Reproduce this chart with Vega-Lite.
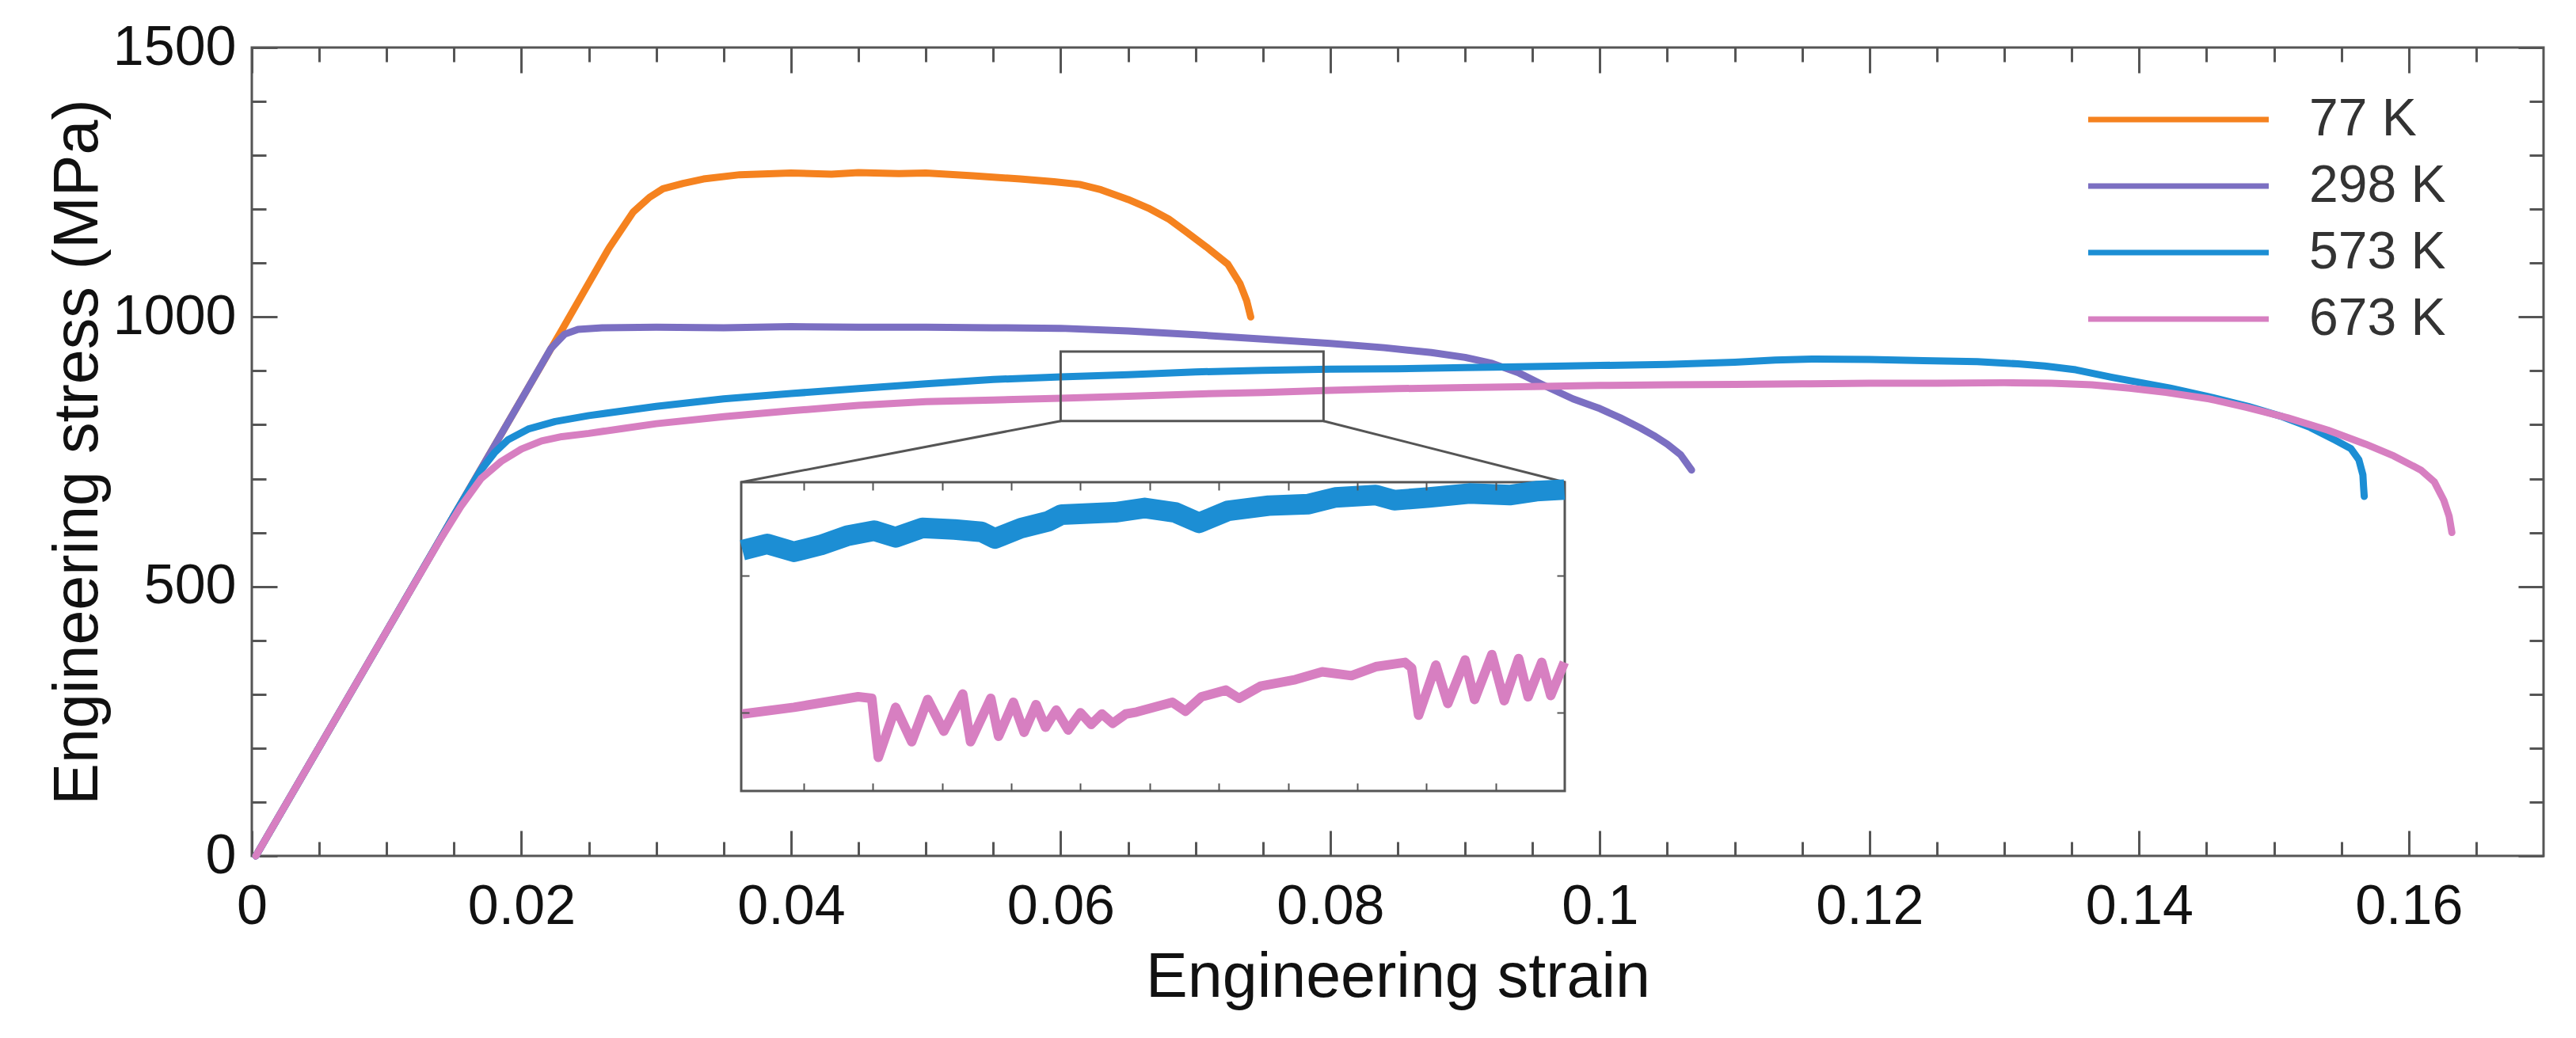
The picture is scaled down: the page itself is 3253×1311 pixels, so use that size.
{
  "$schema": "https://vega.github.io/schema/vega-lite/v6.json",
  "width": 2894,
  "height": 1021,
  "autosize": {"type": "none"},
  "padding": {"left": 318, "top": 60, "right": 41, "bottom": 230},
  "background": "white",
  "config": {
    "font": "Liberation Sans",
    "view": {"stroke": "#555555", "strokeWidth": 3},
    "axis": {"grid": false, "domain": false, "tickColor": "#555555", "tickWidth": 3, "labelColor": "#111111", "titleColor": "#111111", "titleFontWeight": "normal", "labelFlush": false, "labelOverlap": false}
  },
  "datasets": {
    "curves": [
      {"temperature": "77 K", "strain": 0.0003, "stress": 0},
      {"temperature": "77 K", "strain": 0.005, "stress": 202},
      {"temperature": "77 K", "strain": 0.01, "stress": 417},
      {"temperature": "77 K", "strain": 0.015, "stress": 632},
      {"temperature": "77 K", "strain": 0.02, "stress": 847},
      {"temperature": "77 K", "strain": 0.023, "stress": 976},
      {"temperature": "77 K", "strain": 0.0265, "stress": 1128},
      {"temperature": "77 K", "strain": 0.0283, "stress": 1195},
      {"temperature": "77 K", "strain": 0.0295, "stress": 1222},
      {"temperature": "77 K", "strain": 0.0305, "stress": 1238},
      {"temperature": "77 K", "strain": 0.032, "stress": 1248},
      {"temperature": "77 K", "strain": 0.0335, "stress": 1256},
      {"temperature": "77 K", "strain": 0.0362, "stress": 1264},
      {"temperature": "77 K", "strain": 0.04, "stress": 1267},
      {"temperature": "77 K", "strain": 0.043, "stress": 1265},
      {"temperature": "77 K", "strain": 0.045, "stress": 1268},
      {"temperature": "77 K", "strain": 0.048, "stress": 1266},
      {"temperature": "77 K", "strain": 0.05, "stress": 1267},
      {"temperature": "77 K", "strain": 0.0535, "stress": 1262},
      {"temperature": "77 K", "strain": 0.057, "stress": 1256},
      {"temperature": "77 K", "strain": 0.0595, "stress": 1251},
      {"temperature": "77 K", "strain": 0.0614, "stress": 1246},
      {"temperature": "77 K", "strain": 0.063, "stress": 1236},
      {"temperature": "77 K", "strain": 0.065, "stress": 1218},
      {"temperature": "77 K", "strain": 0.0665, "stress": 1202},
      {"temperature": "77 K", "strain": 0.068, "stress": 1182},
      {"temperature": "77 K", "strain": 0.0692, "stress": 1160},
      {"temperature": "77 K", "strain": 0.0708, "stress": 1130},
      {"temperature": "77 K", "strain": 0.0724, "stress": 1098},
      {"temperature": "77 K", "strain": 0.0733, "stress": 1062},
      {"temperature": "77 K", "strain": 0.0738, "stress": 1030},
      {"temperature": "77 K", "strain": 0.0741, "stress": 1000},
      {"temperature": "298 K", "strain": 0.0003, "stress": 0},
      {"temperature": "298 K", "strain": 0.005, "stress": 202},
      {"temperature": "298 K", "strain": 0.01, "stress": 417},
      {"temperature": "298 K", "strain": 0.015, "stress": 632},
      {"temperature": "298 K", "strain": 0.02, "stress": 847},
      {"temperature": "298 K", "strain": 0.0222, "stress": 942},
      {"temperature": "298 K", "strain": 0.0232, "stress": 968},
      {"temperature": "298 K", "strain": 0.0242, "stress": 977},
      {"temperature": "298 K", "strain": 0.026, "stress": 980},
      {"temperature": "298 K", "strain": 0.03, "stress": 981},
      {"temperature": "298 K", "strain": 0.035, "stress": 980},
      {"temperature": "298 K", "strain": 0.04, "stress": 982},
      {"temperature": "298 K", "strain": 0.045, "stress": 981},
      {"temperature": "298 K", "strain": 0.05, "stress": 981},
      {"temperature": "298 K", "strain": 0.055, "stress": 980},
      {"temperature": "298 K", "strain": 0.06, "stress": 979},
      {"temperature": "298 K", "strain": 0.065, "stress": 974},
      {"temperature": "298 K", "strain": 0.07, "stress": 967},
      {"temperature": "298 K", "strain": 0.075, "stress": 959},
      {"temperature": "298 K", "strain": 0.08, "stress": 951},
      {"temperature": "298 K", "strain": 0.084, "stress": 943},
      {"temperature": "298 K", "strain": 0.0875, "stress": 934},
      {"temperature": "298 K", "strain": 0.09, "stress": 925},
      {"temperature": "298 K", "strain": 0.092, "stress": 914},
      {"temperature": "298 K", "strain": 0.094, "stress": 896},
      {"temperature": "298 K", "strain": 0.0957, "stress": 875},
      {"temperature": "298 K", "strain": 0.098, "stress": 848},
      {"temperature": "298 K", "strain": 0.1, "stress": 830},
      {"temperature": "298 K", "strain": 0.1015, "stress": 813},
      {"temperature": "298 K", "strain": 0.103, "stress": 794},
      {"temperature": "298 K", "strain": 0.104, "stress": 780},
      {"temperature": "298 K", "strain": 0.105, "stress": 764},
      {"temperature": "298 K", "strain": 0.106, "stress": 744},
      {"temperature": "298 K", "strain": 0.1068, "stress": 716},
      {"temperature": "573 K", "strain": 0.0003, "stress": 0},
      {"temperature": "573 K", "strain": 0.005, "stress": 202},
      {"temperature": "573 K", "strain": 0.01, "stress": 417},
      {"temperature": "573 K", "strain": 0.015, "stress": 632},
      {"temperature": "573 K", "strain": 0.017, "stress": 716},
      {"temperature": "573 K", "strain": 0.018, "stress": 748},
      {"temperature": "573 K", "strain": 0.019, "stress": 772},
      {"temperature": "573 K", "strain": 0.0205, "stress": 792},
      {"temperature": "573 K", "strain": 0.0225, "stress": 806},
      {"temperature": "573 K", "strain": 0.025, "stress": 817},
      {"temperature": "573 K", "strain": 0.03, "stress": 834},
      {"temperature": "573 K", "strain": 0.035, "stress": 848},
      {"temperature": "573 K", "strain": 0.04, "stress": 858},
      {"temperature": "573 K", "strain": 0.045, "stress": 867},
      {"temperature": "573 K", "strain": 0.05, "stress": 876},
      {"temperature": "573 K", "strain": 0.055, "stress": 884},
      {"temperature": "573 K", "strain": 0.06, "stress": 889},
      {"temperature": "573 K", "strain": 0.065, "stress": 893},
      {"temperature": "573 K", "strain": 0.07, "stress": 898},
      {"temperature": "573 K", "strain": 0.075, "stress": 901},
      {"temperature": "573 K", "strain": 0.08, "stress": 903},
      {"temperature": "573 K", "strain": 0.085, "stress": 904},
      {"temperature": "573 K", "strain": 0.09, "stress": 906},
      {"temperature": "573 K", "strain": 0.095, "stress": 908},
      {"temperature": "573 K", "strain": 0.1, "stress": 910},
      {"temperature": "573 K", "strain": 0.105, "stress": 912},
      {"temperature": "573 K", "strain": 0.11, "stress": 916},
      {"temperature": "573 K", "strain": 0.113, "stress": 920},
      {"temperature": "573 K", "strain": 0.116, "stress": 922},
      {"temperature": "573 K", "strain": 0.12, "stress": 921},
      {"temperature": "573 K", "strain": 0.124, "stress": 919},
      {"temperature": "573 K", "strain": 0.128, "stress": 917},
      {"temperature": "573 K", "strain": 0.131, "stress": 913},
      {"temperature": "573 K", "strain": 0.133, "stress": 909},
      {"temperature": "573 K", "strain": 0.1353, "stress": 902},
      {"temperature": "573 K", "strain": 0.138, "stress": 888},
      {"temperature": "573 K", "strain": 0.1423, "stress": 868},
      {"temperature": "573 K", "strain": 0.145, "stress": 853},
      {"temperature": "573 K", "strain": 0.1481, "stress": 834},
      {"temperature": "573 K", "strain": 0.1505, "stress": 816},
      {"temperature": "573 K", "strain": 0.1527, "stress": 795},
      {"temperature": "573 K", "strain": 0.1545, "stress": 772},
      {"temperature": "573 K", "strain": 0.1557, "stress": 756},
      {"temperature": "573 K", "strain": 0.1563, "stress": 735},
      {"temperature": "573 K", "strain": 0.1566, "stress": 707},
      {"temperature": "573 K", "strain": 0.15665, "stress": 685},
      {"temperature": "573 K", "strain": 0.1567, "stress": 667},
      {"temperature": "673 K", "strain": 0.0003, "stress": 0},
      {"temperature": "673 K", "strain": 0.005, "stress": 202},
      {"temperature": "673 K", "strain": 0.01, "stress": 417},
      {"temperature": "673 K", "strain": 0.014, "stress": 588},
      {"temperature": "673 K", "strain": 0.0155, "stress": 648},
      {"temperature": "673 K", "strain": 0.017, "stress": 700},
      {"temperature": "673 K", "strain": 0.0185, "stress": 732},
      {"temperature": "673 K", "strain": 0.02, "stress": 755},
      {"temperature": "673 K", "strain": 0.0215, "stress": 770},
      {"temperature": "673 K", "strain": 0.023, "stress": 778},
      {"temperature": "673 K", "strain": 0.025, "stress": 784},
      {"temperature": "673 K", "strain": 0.0275, "stress": 793},
      {"temperature": "673 K", "strain": 0.03, "stress": 802},
      {"temperature": "673 K", "strain": 0.035, "stress": 815},
      {"temperature": "673 K", "strain": 0.04, "stress": 826},
      {"temperature": "673 K", "strain": 0.045, "stress": 836},
      {"temperature": "673 K", "strain": 0.05, "stress": 843},
      {"temperature": "673 K", "strain": 0.055, "stress": 846},
      {"temperature": "673 K", "strain": 0.06, "stress": 849},
      {"temperature": "673 K", "strain": 0.065, "stress": 853},
      {"temperature": "673 K", "strain": 0.07, "stress": 857},
      {"temperature": "673 K", "strain": 0.075, "stress": 860},
      {"temperature": "673 K", "strain": 0.08, "stress": 864},
      {"temperature": "673 K", "strain": 0.085, "stress": 867},
      {"temperature": "673 K", "strain": 0.09, "stress": 869},
      {"temperature": "673 K", "strain": 0.095, "stress": 871},
      {"temperature": "673 K", "strain": 0.1, "stress": 873},
      {"temperature": "673 K", "strain": 0.105, "stress": 874},
      {"temperature": "673 K", "strain": 0.11, "stress": 875},
      {"temperature": "673 K", "strain": 0.115, "stress": 876},
      {"temperature": "673 K", "strain": 0.12, "stress": 877},
      {"temperature": "673 K", "strain": 0.125, "stress": 877},
      {"temperature": "673 K", "strain": 0.13, "stress": 878},
      {"temperature": "673 K", "strain": 0.1335, "stress": 877},
      {"temperature": "673 K", "strain": 0.1365, "stress": 874},
      {"temperature": "673 K", "strain": 0.1393, "stress": 868},
      {"temperature": "673 K", "strain": 0.142, "stress": 860},
      {"temperature": "673 K", "strain": 0.1452, "stress": 848},
      {"temperature": "673 K", "strain": 0.148, "stress": 832},
      {"temperature": "673 K", "strain": 0.151, "stress": 813},
      {"temperature": "673 K", "strain": 0.154, "stress": 790},
      {"temperature": "673 K", "strain": 0.1568, "stress": 764},
      {"temperature": "673 K", "strain": 0.1589, "stress": 742},
      {"temperature": "673 K", "strain": 0.1609, "stress": 716},
      {"temperature": "673 K", "strain": 0.1619, "stress": 694},
      {"temperature": "673 K", "strain": 0.1626, "stress": 660},
      {"temperature": "673 K", "strain": 0.163, "stress": 630},
      {"temperature": "673 K", "strain": 0.1632, "stress": 600}
    ],
    "inset": [
      {"temperature": "573 K", "strain": 0.06003, "stress": 889.6},
      {"temperature": "573 K", "strain": 0.06063, "stress": 891.2},
      {"temperature": "573 K", "strain": 0.06128, "stress": 889.2},
      {"temperature": "573 K", "strain": 0.06193, "stress": 890.9},
      {"temperature": "573 K", "strain": 0.06258, "stress": 893.3},
      {"temperature": "573 K", "strain": 0.06323, "stress": 894.6},
      {"temperature": "573 K", "strain": 0.06375, "stress": 892.9},
      {"temperature": "573 K", "strain": 0.0644, "stress": 895.3},
      {"temperature": "573 K", "strain": 0.06518, "stress": 894.9},
      {"temperature": "573 K", "strain": 0.06583, "stress": 894.3},
      {"temperature": "573 K", "strain": 0.06616, "stress": 892.6},
      {"temperature": "573 K", "strain": 0.06681, "stress": 895.3},
      {"temperature": "573 K", "strain": 0.06746, "stress": 897.0},
      {"temperature": "573 K", "strain": 0.06778, "stress": 898.7},
      {"temperature": "573 K", "strain": 0.06843, "stress": 899.0},
      {"temperature": "573 K", "strain": 0.06908, "stress": 899.3},
      {"temperature": "573 K", "strain": 0.0698, "stress": 900.4},
      {"temperature": "573 K", "strain": 0.07053, "stress": 899.3},
      {"temperature": "573 K", "strain": 0.07112, "stress": 896.6},
      {"temperature": "573 K", "strain": 0.07183, "stress": 899.7},
      {"temperature": "573 K", "strain": 0.07281, "stress": 901.0},
      {"temperature": "573 K", "strain": 0.07378, "stress": 901.4},
      {"temperature": "573 K", "strain": 0.07443, "stress": 903.1},
      {"temperature": "573 K", "strain": 0.07541, "stress": 903.7},
      {"temperature": "573 K", "strain": 0.07586, "stress": 902.4},
      {"temperature": "573 K", "strain": 0.07671, "stress": 903.1},
      {"temperature": "573 K", "strain": 0.07768, "stress": 904.1},
      {"temperature": "573 K", "strain": 0.07866, "stress": 903.7},
      {"temperature": "573 K", "strain": 0.07931, "stress": 904.7},
      {"temperature": "573 K", "strain": 0.07999, "stress": 905.1},
      {"temperature": "673 K", "strain": 0.06003, "stress": 847.7},
      {"temperature": "673 K", "strain": 0.06128, "stress": 849.4},
      {"temperature": "673 K", "strain": 0.06284, "stress": 852.1},
      {"temperature": "673 K", "strain": 0.06317, "stress": 851.7},
      {"temperature": "673 K", "strain": 0.06333, "stress": 836.6},
      {"temperature": "673 K", "strain": 0.06375, "stress": 849.4},
      {"temperature": "673 K", "strain": 0.06414, "stress": 840.6},
      {"temperature": "673 K", "strain": 0.06453, "stress": 851.4},
      {"temperature": "673 K", "strain": 0.06492, "stress": 843.3},
      {"temperature": "673 K", "strain": 0.06538, "stress": 852.8},
      {"temperature": "673 K", "strain": 0.06557, "stress": 840.6},
      {"temperature": "673 K", "strain": 0.06606, "stress": 851.7},
      {"temperature": "673 K", "strain": 0.06625, "stress": 842.0},
      {"temperature": "673 K", "strain": 0.06661, "stress": 850.7},
      {"temperature": "673 K", "strain": 0.06687, "stress": 843.0},
      {"temperature": "673 K", "strain": 0.06716, "stress": 850.1},
      {"temperature": "673 K", "strain": 0.06739, "stress": 844.3},
      {"temperature": "673 K", "strain": 0.06765, "stress": 848.7},
      {"temperature": "673 K", "strain": 0.06794, "stress": 843.6},
      {"temperature": "673 K", "strain": 0.06824, "stress": 848.0},
      {"temperature": "673 K", "strain": 0.0685, "stress": 845.0},
      {"temperature": "673 K", "strain": 0.06876, "stress": 847.7},
      {"temperature": "673 K", "strain": 0.06902, "stress": 845.3},
      {"temperature": "673 K", "strain": 0.06934, "stress": 847.7},
      {"temperature": "673 K", "strain": 0.0696, "stress": 848.2},
      {"temperature": "673 K", "strain": 0.07047, "stress": 850.7},
      {"temperature": "673 K", "strain": 0.07079, "stress": 848.4},
      {"temperature": "673 K", "strain": 0.07118, "stress": 852.1},
      {"temperature": "673 K", "strain": 0.07177, "stress": 853.8},
      {"temperature": "673 K", "strain": 0.07209, "stress": 851.7},
      {"temperature": "673 K", "strain": 0.07261, "stress": 854.8},
      {"temperature": "673 K", "strain": 0.07346, "stress": 856.5},
      {"temperature": "673 K", "strain": 0.07411, "stress": 858.5},
      {"temperature": "673 K", "strain": 0.07482, "stress": 857.5},
      {"temperature": "673 K", "strain": 0.07541, "stress": 859.8},
      {"temperature": "673 K", "strain": 0.07612, "stress": 860.9},
      {"temperature": "673 K", "strain": 0.07628, "stress": 859.5},
      {"temperature": "673 K", "strain": 0.07645, "stress": 847.4},
      {"temperature": "673 K", "strain": 0.07687, "stress": 860.2},
      {"temperature": "673 K", "strain": 0.07716, "stress": 850.4},
      {"temperature": "673 K", "strain": 0.07758, "stress": 861.5},
      {"temperature": "673 K", "strain": 0.07781, "stress": 851.4},
      {"temperature": "673 K", "strain": 0.07823, "stress": 862.9},
      {"temperature": "673 K", "strain": 0.07853, "stress": 851.1},
      {"temperature": "673 K", "strain": 0.07888, "stress": 861.9},
      {"temperature": "673 K", "strain": 0.07911, "stress": 852.1},
      {"temperature": "673 K", "strain": 0.07944, "stress": 860.9},
      {"temperature": "673 K", "strain": 0.07966, "stress": 852.4},
      {"temperature": "673 K", "strain": 0.07999, "stress": 860.9}
    ],
    "box": [{"x0": 0.06, "x1": 0.0795, "y0": 807, "y1": 936}],
    "links": [
      {"side": "left", "x": 0.06, "y": 807, "x2": 0.0363, "y2": 693.4},
      {"side": "right", "x": 0.0795, "y": 807, "x2": 0.0974, "y2": 693.4}
    ],
    "insetFrame": [{"x0": 0.06, "x1": 0.08, "y0": 828, "y1": 907}]
  },
  "layer": [
    {
      "layer": [
        {
          "data": {"name": "curves"},
          "mark": {"type": "line", "strokeWidth": 9, "strokeJoin": "round", "strokeCap": "round"},
          "encoding": {
            "x": {
              "field": "strain", "type": "quantitative",
              "scale": {"domain": [0, 0.17], "nice": false, "zero": false},
              "axis": {"orient": "bottom", "values": [0, 0.02, 0.04, 0.06, 0.08, 0.1, 0.12, 0.14, 0.16], "format": "~g", "tickSize": -32, "labelFontSize": 70, "labelPadding": 62, "title": "Engineering strain", "titleFontSize": 79, "titlePadding": 16}
            },
            "y": {
              "field": "stress", "type": "quantitative",
              "scale": {"domain": [0, 1500], "nice": false, "zero": false},
              "axis": {"orient": "left", "values": [0, 500, 1000, 1500], "format": "d", "tickSize": -32, "labelFontSize": 70, "labelPadding": 52, "title": "Engineering stress (MPa)", "titleFontSize": 79, "titlePadding": 3}
            },
            "color": {
              "field": "temperature", "type": "nominal",
              "scale": {"domain": ["77 K", "298 K", "573 K", "673 K"], "range": ["#F5821F", "#7B6FC2", "#1C8ED4", "#D77FC1"]},
              "legend": {"orient": "none", "legendX": 2400, "legendY": 58, "title": null, "padding": 0, "symbolType": "M-5,0H5", "symbolSize": 2079, "symbolStrokeWidth": 7, "labelFontSize": 66, "labelLimit": 500, "labelColor": "#333333", "labelOffset": 132, "rowPadding": 18}
            }
          }
        },
        {
          "data": {"name": "box"},
          "mark": {"type": "rect", "fill": null, "stroke": "#555555", "strokeWidth": 3},
          "encoding": {
            "x": {"field": "x0", "type": "quantitative", "scale": {"domain": [0, 0.17], "nice": false, "zero": false},
              "axis": {"orient": "bottom", "values": [0.005, 0.01, 0.015, 0.025, 0.03, 0.035, 0.045, 0.05, 0.055, 0.065, 0.07, 0.075, 0.085, 0.09, 0.095, 0.105, 0.11, 0.115, 0.125, 0.13, 0.135, 0.145, 0.15, 0.155, 0.165], "labels": false, "tickSize": -18, "title": null}},
            "x2": {"field": "x1"},
            "y": {"field": "y0", "type": "quantitative", "scale": {"domain": [0, 1500], "nice": false, "zero": false},
              "axis": {"orient": "left", "values": [100, 200, 300, 400, 600, 700, 800, 900, 1100, 1200, 1300, 1400], "labels": false, "tickSize": -18, "title": null}},
            "y2": {"field": "y1"}
          }
        },
        {
          "data": {"name": "links"},
          "transform": [{"filter": "datum.side === 'left'"}],
          "mark": {"type": "rule", "stroke": "#555555", "strokeWidth": 3},
          "encoding": {
            "x": {"field": "x", "type": "quantitative", "scale": {"domain": [0, 0.17], "nice": false, "zero": false},
              "axis": {"orient": "top", "values": [0, 0.02, 0.04, 0.06, 0.08, 0.1, 0.12, 0.14, 0.16], "labels": false, "tickSize": -32, "title": null}},
            "x2": {"field": "x2"},
            "y": {"field": "y", "type": "quantitative", "scale": {"domain": [0, 1500], "nice": false, "zero": false},
              "axis": {"orient": "right", "values": [0, 500, 1000, 1500], "labels": false, "tickSize": -32, "title": null}},
            "y2": {"field": "y2"}
          }
        },
        {
          "data": {"name": "links"},
          "transform": [{"filter": "datum.side === 'right'"}],
          "mark": {"type": "rule", "stroke": "#555555", "strokeWidth": 3},
          "encoding": {
            "x": {"field": "x", "type": "quantitative", "scale": {"domain": [0, 0.17], "nice": false, "zero": false},
              "axis": {"orient": "top", "values": [0.005, 0.01, 0.015, 0.025, 0.03, 0.035, 0.045, 0.05, 0.055, 0.065, 0.07, 0.075, 0.085, 0.09, 0.095, 0.105, 0.11, 0.115, 0.125, 0.13, 0.135, 0.145, 0.15, 0.155, 0.165], "labels": false, "tickSize": -18, "title": null}},
            "x2": {"field": "x2"},
            "y": {"field": "y", "type": "quantitative", "scale": {"domain": [0, 1500], "nice": false, "zero": false},
              "axis": {"orient": "right", "values": [100, 200, 300, 400, 600, 700, 800, 900, 1100, 1200, 1300, 1400], "labels": false, "tickSize": -18, "title": null}},
            "y2": {"field": "y2"}
          }
        }
      ],
      "resolve": {"axis": {"x": "independent", "y": "independent"}}
    },
    {
      "layer": [
        {
          "data": {"name": "insetFrame"},
          "mark": {"type": "rect", "fill": "white", "stroke": "#555555", "strokeWidth": 3},
          "encoding": {
            "x": {"field": "x0", "type": "quantitative", "scale": {"domain": [0.06, 0.08], "range": [618, 1658], "nice": false, "zero": false}, "axis": null},
            "x2": {"field": "x1"},
            "y": {"field": "y0", "type": "quantitative", "scale": {"domain": [828, 907], "range": [939, 549], "nice": false, "zero": false}, "axis": null},
            "y2": {"field": "y1"}
          }
        },
        {
          "data": {"name": "inset"},
          "transform": [{"filter": "datum.temperature === '573 K'"}],
          "mark": {"type": "line", "strokeWidth": 26, "strokeJoin": "round", "strokeCap": "butt"},
          "encoding": {
            "x": {"field": "strain", "type": "quantitative", "scale": {"domain": [0.06, 0.08], "range": [618, 1658], "nice": false, "zero": false},
              "axis": {"orient": "bottom", "offset": -82, "zindex": 2, "values": [0.06152, 0.0632, 0.06488, 0.06656, 0.06824, 0.06992, 0.0716, 0.07328, 0.07496, 0.07664, 0.07832], "labels": false, "tickSize": -10, "tickWidth": 2, "title": null}},
            "y": {"field": "stress", "type": "quantitative", "scale": {"domain": [828, 907], "range": [939, 549], "nice": false, "zero": false},
              "axis": {"orient": "left", "offset": -618, "zindex": 2, "values": [848, 883], "labels": false, "tickSize": -10, "tickWidth": 2, "title": null}},
            "color": {"field": "temperature", "type": "nominal", "legend": null}
          }
        },
        {
          "data": {"name": "inset"},
          "transform": [{"filter": "datum.temperature === '673 K'"}],
          "mark": {"type": "line", "strokeWidth": 12, "strokeJoin": "round", "strokeCap": "butt"},
          "encoding": {
            "x": {"field": "strain", "type": "quantitative", "scale": {"domain": [0.06, 0.08], "range": [618, 1658], "nice": false, "zero": false},
              "axis": {"orient": "top", "offset": -549, "zindex": 2, "values": [0.06152, 0.0632, 0.06488, 0.06656, 0.06824, 0.06992, 0.0716, 0.07328, 0.07496, 0.07664, 0.07832], "labels": false, "tickSize": -10, "tickWidth": 2, "title": null}},
            "y": {"field": "stress", "type": "quantitative", "scale": {"domain": [828, 907], "range": [939, 549], "nice": false, "zero": false},
              "axis": {"orient": "right", "offset": -1236, "zindex": 2, "values": [848, 883], "labels": false, "tickSize": -10, "tickWidth": 2, "title": null}},
            "color": {"field": "temperature", "type": "nominal", "legend": null}
          }
        }
      ],
      "resolve": {"axis": {"x": "independent", "y": "independent"}}
    }
  ],
  "resolve": {"scale": {"x": "independent", "y": "independent"}, "axis": {"x": "independent", "y": "independent"}}
}
